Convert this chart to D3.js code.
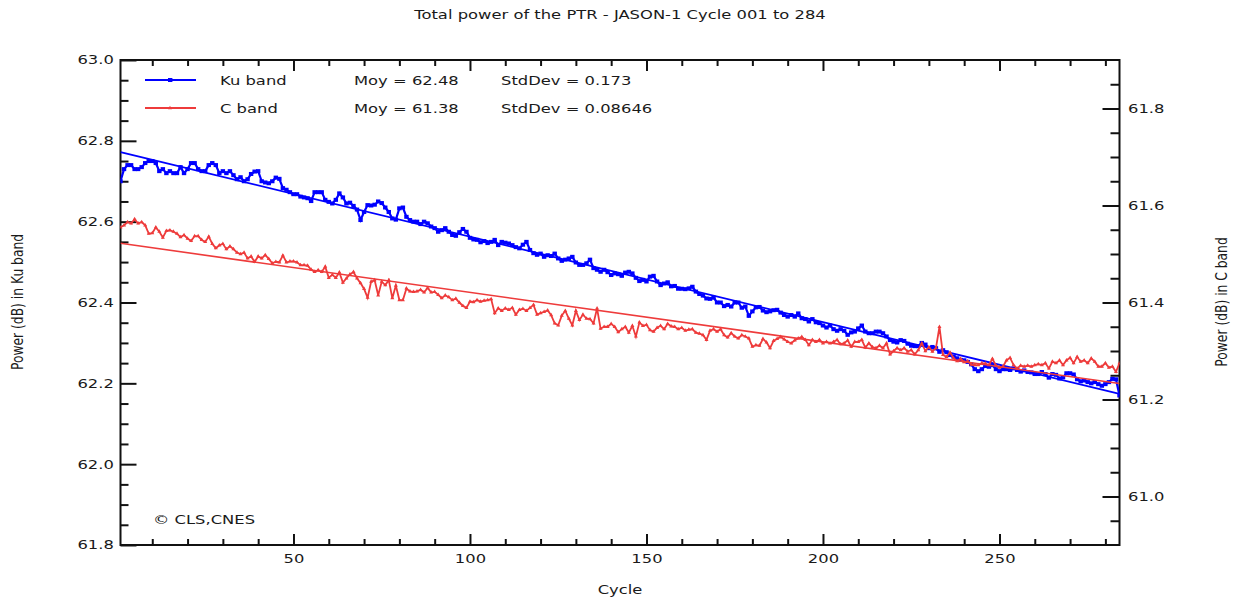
<!DOCTYPE html>
<html>
<head>
<meta charset="utf-8">
<script src="https://cdn.jsdelivr.net/npm/d3@7"></script>
<style>
  body { margin: 0; background: #fff; }
  text { font-family: "DejaVu Sans", sans-serif; fill: #1a1a1a; }
</style>
</head>
<body>
<svg id="chart" width="1244" height="603"></svg>
<script>
// PTR total power per cycle (cycles 1..284)
var kuPower = [
  62.70, 62.73, 62.74, 62.74, 62.73, 62.73, 62.735, 62.745, 62.75, 62.75,
  62.745, 62.725, 62.73, 62.72, 62.725, 62.72, 62.72, 62.735, 62.72, 62.73,
  62.745, 62.745, 62.73, 62.725, 62.725, 62.74, 62.745, 62.74, 62.72, 62.725,
  62.72, 62.725, 62.715, 62.705, 62.71, 62.70, 62.705, 62.718, 62.724, 62.725,
  62.70, 62.697, 62.695, 62.70, 62.709, 62.706, 62.683, 62.679, 62.673, 62.668,
  62.668, 62.662, 62.66, 62.658, 62.651, 62.673, 62.673, 62.673, 62.654, 62.649,
  62.645, 62.654, 62.670, 62.66, 62.645, 62.647, 62.639, 62.63, 62.604, 62.624,
  62.641, 62.640, 62.642, 62.65, 62.646, 62.635, 62.624, 62.608, 62.605, 62.633,
  62.635, 62.612, 62.604, 62.60, 62.60, 62.594, 62.60, 62.596, 62.588, 62.584,
  62.575, 62.579, 62.584, 62.575, 62.567, 62.565, 62.574, 62.582, 62.575, 62.56,
  62.556, 62.555, 62.549, 62.552, 62.547, 62.55, 62.555, 62.542, 62.55, 62.548,
  62.546, 62.542, 62.537, 62.534, 62.543, 62.55, 62.53, 62.522, 62.518, 62.521,
  62.513, 62.517, 62.515, 62.521, 62.509, 62.503, 62.506, 62.509, 62.513, 62.499,
  62.493, 62.493, 62.497, 62.506, 62.485, 62.481, 62.476, 62.481, 62.475, 62.468,
  62.472, 62.47, 62.466, 62.474, 62.476, 62.472, 62.461, 62.453, 62.456, 62.452,
  62.464, 62.466, 62.452, 62.443, 62.447, 62.45, 62.44, 62.441, 62.434, 62.434,
  62.433, 62.435, 62.439, 62.427, 62.421, 62.417, 62.41, 62.409, 62.412, 62.40,
  62.40, 62.391, 62.394, 62.39, 62.40, 62.40, 62.387, 62.39, 62.367, 62.378,
  62.388, 62.389, 62.38, 62.376, 62.378, 62.381, 62.382, 62.375, 62.369, 62.365,
  62.369, 62.365, 62.373, 62.361, 62.359, 62.353, 62.359, 62.351, 62.349, 62.343,
  62.338, 62.343, 62.334, 62.33, 62.334, 62.33, 62.32, 62.326, 62.328, 62.336,
  62.343, 62.328, 62.324, 62.324, 62.328, 62.328, 62.324, 62.316, 62.307, 62.303,
  62.301, 62.307, 62.305, 62.298, 62.293, 62.292, 62.292, 62.30, 62.296, 62.287,
  62.29, 62.287, 62.278, 62.282, 62.277, 62.27, 62.266, 62.262, 62.258, 62.257,
  62.253, 62.247, 62.235, 62.23, 62.235, 62.243, 62.241, 62.245, 62.235, 62.23,
  62.235, 62.235, 62.233, 62.237, 62.233, 62.229, 62.232, 62.228, 62.227, 62.223,
  62.223, 62.228, 62.223, 62.214, 62.223, 62.221, 62.212, 62.215, 62.225, 62.225,
  62.222, 62.21, 62.205, 62.207, 62.203, 62.20, 62.203, 62.198, 62.194, 62.198,
  62.203, 62.211, 62.21, 62.17
];
var cPower = [
  61.555, 61.559, 61.566, 61.563, 61.572, 61.563, 61.566, 61.559, 61.542, 61.543,
  61.555, 61.546, 61.534, 61.548, 61.549, 61.546, 61.542, 61.535, 61.539, 61.532,
  61.527, 61.537, 61.537, 61.529, 61.525, 61.536, 61.521, 61.512, 61.518, 61.521,
  61.51, 61.516, 61.51, 61.503, 61.50, 61.503, 61.491, 61.495, 61.484, 61.495,
  61.491, 61.498, 61.49, 61.481, 61.484, 61.483, 61.497, 61.483, 61.485, 61.485,
  61.483, 61.477, 61.477, 61.476, 61.468, 61.463, 61.467, 61.463, 61.474, 61.451,
  61.457, 61.451, 61.462, 61.441, 61.45, 61.458, 61.463, 61.45, 61.44, 61.428,
  61.41, 61.443, 61.446, 61.415, 61.443, 61.436, 61.446, 61.409, 61.435, 61.405,
  61.405, 61.429, 61.423, 61.422, 61.423, 61.426, 61.421, 61.43, 61.421, 61.422,
  61.416, 61.409, 61.415, 61.411, 61.405, 61.408, 61.40, 61.393, 61.389, 61.402,
  61.401, 61.405, 61.402, 61.404, 61.405, 61.407, 61.378, 61.388, 61.383, 61.388,
  61.385, 61.389, 61.375, 61.385, 61.387, 61.383, 61.389, 61.395, 61.375, 61.378,
  61.381, 61.384, 61.374, 61.357, 61.353, 61.373, 61.383, 61.367, 61.353, 61.383,
  61.364, 61.375, 61.367, 61.366, 61.357, 61.388, 61.346, 61.35, 61.35, 61.356,
  61.35, 61.339, 61.345, 61.35, 61.338, 61.352, 61.33, 61.359, 61.352, 61.354,
  61.343, 61.34, 61.348, 61.352, 61.345, 61.356, 61.351, 61.35, 61.345, 61.348,
  61.342, 61.344, 61.345, 61.338, 61.336, 61.333, 61.323, 61.342, 61.345, 61.34,
  61.345, 61.333, 61.328, 61.337, 61.33, 61.326, 61.333, 61.33, 61.326, 61.309,
  61.312, 61.311, 61.325, 61.318, 61.306, 61.321, 61.325, 61.329, 61.324, 61.319,
  61.316, 61.322, 61.326, 61.329, 61.323, 61.312, 61.323, 61.319, 61.323, 61.316,
  61.319, 61.316, 61.319, 61.323, 61.314, 61.316, 61.322, 61.309, 61.319, 61.319,
  61.323, 61.307, 61.316, 61.308, 61.306, 61.311, 61.306, 61.316, 61.293, 61.30,
  61.306, 61.302, 61.306, 61.299, 61.302, 61.293, 61.302, 61.316, 61.30, 61.308,
  61.299, 61.306, 61.35, 61.292, 61.288, 61.297, 61.285, 61.279, 61.284, 61.277,
  61.279, 61.272, 61.271, 61.271, 61.275, 61.274, 61.271, 61.284, 61.27, 61.266,
  61.268, 61.281, 61.286, 61.271, 61.264, 61.27, 61.268, 61.27, 61.268, 61.271,
  61.273, 61.271, 61.275, 61.264, 61.278, 61.275, 61.281, 61.271, 61.281, 61.286,
  61.275, 61.288, 61.278, 61.281, 61.275, 61.285, 61.278, 61.268, 61.268, 61.275,
  61.266, 61.268, 61.257, 61.275
];
// linear fits as drawn (value at first and last cycle)
var fitCycles = [1, 284];
var kuFit = [62.772, 62.174];
var cFit = [61.522, 61.233];

var xMajor = [50, 100, 150, 200, 250];
var kuMajor = [61.8, 62.0, 62.2, 62.4, 62.6, 62.8, 63.0];
var cMajor = [61.0, 61.2, 61.4, 61.6, 61.8];

var seriesNames = ["Ku band", "C band"];
var seriesMoy = ["62.48", "61.38"];
var seriesStd = ["0.173", "0.08646"];
var titleText = "Total power of the PTR - JASON-1 Cycle 001 to 284";

var SX = 1.33, FS = 12.3;
var plotL = 120.5, plotR = 1119.5, plotT = 60, plotB = 545;
var kuColor = "#0000ff", cColor = "#ee3b3b";

var svg = d3.select("#chart");
var cycles = d3.range(1, kuPower.length + 1);

var x = d3.scaleLinear().domain([1, 284]).range([plotL, plotR]);
var yKu = d3.scaleLinear().domain([61.8, 63.0]).range([plotB, plotT]);
var yC = d3.scaleLinear().domain([60.9, 61.9]).range([plotB, plotT]);

function hText(px, py, s, anchor) {
  return svg.append("text")
    .attr("transform", "translate(" + px + "," + py + ") scale(" + SX + ",1)")
    .attr("text-anchor", anchor || "start")
    .attr("font-size", FS)
    .text(s);
}

// minor tick values
var xMinor = d3.range(10, 284, 10).filter(function (v) { return v % 50 !== 0; });
var kuMinor = d3.range(61.85, 63.0, 0.05).map(function (v) { return +v.toFixed(2); })
  .filter(function (v) { return Math.abs(v * 5 - Math.round(v * 5)) > 1e-6; });
var cMinor = d3.range(60.95, 61.9, 0.05).map(function (v) { return +v.toFixed(2); })
  .filter(function (v) { return Math.abs(v * 5 - Math.round(v * 5)) > 1e-6; });

function styleAxis(g) {
  g.select(".domain").remove();
  g.selectAll("line").attr("stroke", "#111").attr("stroke-width", 2);
  g.selectAll("text").attr("font-family", "DejaVu Sans, sans-serif")
    .attr("font-size", FS).attr("fill", "#1a1a1a")
    .attr("transform", "scale(" + SX + ",1)");
}

var fmt1 = d3.format(".1f");
var none = function () { return ""; };

// bottom & top
svg.append("g").attr("transform", "translate(0," + plotB + ")")
  .call(d3.axisBottom(x).tickValues(xMajor).tickSizeInner(-11).tickSizeOuter(0).tickPadding(9).tickFormat(d3.format("d")))
  .call(styleAxis);
svg.append("g").attr("transform", "translate(0," + plotB + ")")
  .call(d3.axisBottom(x).tickValues(xMinor).tickSizeInner(-6).tickSizeOuter(0).tickFormat(none))
  .call(styleAxis);
svg.append("g").attr("transform", "translate(0," + plotT + ")")
  .call(d3.axisTop(x).tickValues(xMajor).tickSizeInner(-11).tickSizeOuter(0).tickFormat(none))
  .call(styleAxis);
svg.append("g").attr("transform", "translate(0," + plotT + ")")
  .call(d3.axisTop(x).tickValues(xMinor).tickSizeInner(-6).tickSizeOuter(0).tickFormat(none))
  .call(styleAxis);

// left (Ku)
svg.append("g").attr("transform", "translate(" + plotL + ",0)")
  .call(d3.axisLeft(yKu).tickValues(kuMajor).tickSizeInner(-16).tickSizeOuter(0).tickPadding(5).tickFormat(fmt1))
  .call(styleAxis);
svg.append("g").attr("transform", "translate(" + plotL + ",0)")
  .call(d3.axisLeft(yKu).tickValues(kuMinor).tickSizeInner(-8).tickSizeOuter(0).tickFormat(none))
  .call(styleAxis);

// right (C)
svg.append("g").attr("transform", "translate(" + plotR + ",0)")
  .call(d3.axisRight(yC).tickValues(cMajor).tickSizeInner(-17).tickSizeOuter(0).tickPadding(6.4).tickFormat(fmt1))
  .call(styleAxis);
svg.append("g").attr("transform", "translate(" + plotR + ",0)")
  .call(d3.axisRight(yC).tickValues(cMinor).tickSizeInner(-9).tickSizeOuter(0).tickFormat(none))
  .call(styleAxis);

// frame
svg.append("rect")
  .attr("x", plotL).attr("y", plotT)
  .attr("width", plotR - plotL).attr("height", plotB - plotT)
  .attr("fill", "none").attr("stroke", "#111").attr("stroke-width", 2);

// data
svg.append("clipPath").attr("id", "plot")
  .append("rect").attr("x", plotL).attr("y", plotT)
  .attr("width", plotR - plotL).attr("height", plotB - plotT);
var plot = svg.append("g").attr("clip-path", "url(#plot)");

var kuLine = d3.line().x(function (d, i) { return x(cycles[i]); }).y(function (d) { return yKu(d); });
var cLine = d3.line().x(function (d, i) { return x(cycles[i]); }).y(function (d) { return yC(d); });

plot.append("path").datum(kuPower)
  .attr("d", kuLine).attr("fill", "none")
  .attr("stroke", kuColor).attr("stroke-width", 2.2);
plot.selectAll(".kuPt").data(kuPower).enter().append("rect")
  .attr("x", function (d, i) { return x(cycles[i]) - 2.2; })
  .attr("y", function (d) { return yKu(d) - 2; })
  .attr("width", 4.4).attr("height", 4).attr("fill", kuColor);

plot.append("path")
  .attr("d", d3.line()(fitCycles.map(function (c, i) { return [x(c), yKu(kuFit[i])]; })))
  .attr("stroke", kuColor).attr("stroke-width", 1.8).attr("fill", "none");

plot.append("path").datum(cPower)
  .attr("d", cLine).attr("fill", "none")
  .attr("stroke", cColor).attr("stroke-width", 1.8);
plot.selectAll(".cPt").data(cPower).enter().append("path")
  .attr("transform", function (d, i) { return "translate(" + x(cycles[i]) + "," + yC(d) + ")"; })
  .attr("d", d3.symbol(d3.symbolTriangle, 7)).attr("fill", cColor);

plot.append("path")
  .attr("d", d3.line()(fitCycles.map(function (c, i) { return [x(c), yC(cFit[i])]; })))
  .attr("stroke", cColor).attr("stroke-width", 1.6).attr("fill", "none");

// legend
var legendY = [80, 108];
var legendColor = [kuColor, cColor];
seriesNames.forEach(function (name, i) {
  var ly = legendY[i];
  svg.append("line").attr("x1", 145).attr("x2", 196).attr("y1", ly).attr("y2", ly)
    .attr("stroke", legendColor[i]).attr("stroke-width", 2.2);
  if (i === 0) {
    svg.append("rect").attr("x", 168).attr("y", ly - 2).attr("width", 4.4).attr("height", 4).attr("fill", kuColor);
  } else {
    svg.append("path").attr("transform", "translate(170," + ly + ")")
      .attr("d", d3.symbol(d3.symbolTriangle, 7)).attr("fill", cColor);
  }
  hText(220, ly + 5, name);
  hText(354, ly + 5, "Moy = " + seriesMoy[i]);
  hText(501, ly + 5, "StdDev = " + seriesStd[i]);
});

// titles
hText(620, 19, titleText, "middle");
hText(620, 594, "Cycle", "middle");
hText(153, 524, "\u00a9 CLS,CNES");

svg.append("text")
  .attr("transform", "translate(23,302) rotate(-90) scale(1," + SX + ")")
  .attr("text-anchor", "middle").attr("font-size", FS)
  .text("Power (dB) in Ku band");
svg.append("text")
  .attr("transform", "translate(1227,302) rotate(-90) scale(1," + SX + ")")
  .attr("text-anchor", "middle").attr("font-size", FS)
  .text("Power (dB) in C band");
</script>
</body>
</html>
